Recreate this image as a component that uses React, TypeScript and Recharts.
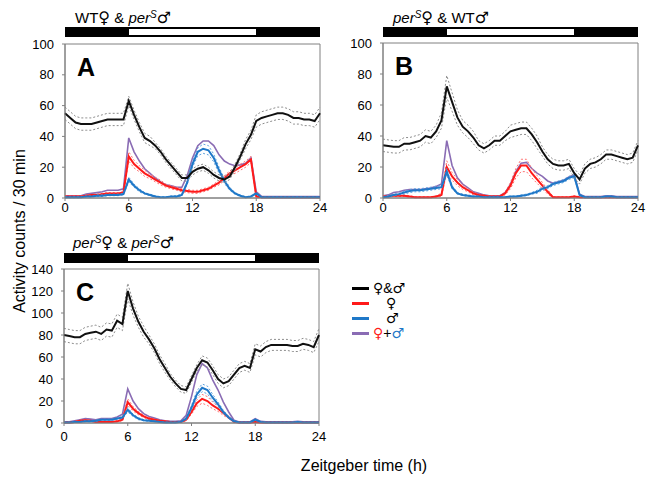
import { LineChart, Line, XAxis, YAxis, ReferenceArea } from "recharts";

// half-hour bins, ZT 0 .. 24
const HOURS = [
  0, 0.5, 1, 1.5, 2, 2.5, 3, 3.5, 4, 4.5, 5, 5.5,
  6, 6.5, 7, 7.5, 8, 8.5, 9, 9.5, 10, 10.5, 11, 11.5,
  12, 12.5, 13, 13.5, 14, 14.5, 15, 15.5, 16, 16.5, 17, 17.5,
  18, 18.5, 19, 19.5, 20, 20.5, 21, 21.5, 22, 22.5, 23, 23.5,
  24,
];
const X_TICKS = [0, 6, 12, 18, 24];
const Y_TICKS_AB = [0, 20, 40, 60, 80, 100];
const Y_TICKS_C = [0, 20, 40, 60, 80, 100, 120, 140];

// Panel A: WT female & perS male
const A_PAIR = [55,52,49,48,48,48,49,50,51,51,51,51, 63,54,46,39,37,34,30,25,21,17,13,13, 17,19,20,18,15,13,12,14,20,27,35,41, 50,52,53,54,55,55,54,52,52,51,51,50, 55];
const A_PAIR_SEM = [4,4,4,4,4,4,4,4,4,4,4,4, 3,3,3,3,3,2,2,2,2,2,2,2, 2,2,2,2,2,2,2,2,2,2,3,3, 4,4,4,4,4,4,4,4,4,4,4,4, 4];
const A_FEMALE = [1,1,1,1,1.5,2,2,2.5,3,3,3,3.5, 27,22,19,16,14,12,10,8,7,6,5,4.5, 4,4,5,6,8,10,13,16,18,20,22,25, 1,0.5,0.5,0.5,0.5,0.5,0.5,0.5,0.5,0.5,0.5,0.5, 0.5];
const A_FEMALE_SEM = [0.5,0.5,0.5,0.5,0.5,0.5,0.5,0.5,0.5,0.5,0.5,0.5, 3,2.5,2,2,1.5,1.5,1.5,1,1,1,1,1, 1,1,1,1,1,1.5,1.5,1.5,2,2,2,2, 0.5,0.3,0.3,0.3,0.3,0.3,0.3,0.3,0.3,0.3,0.3,0.3, 0.3];
const A_MALE = [0.5,0.5,0.5,0.5,1,1,1.5,1.5,2,2,2,2.5, 12,8,5,3,2,1,0.5,0.5,1,1,2,10, 22,30,32,31,26,18,11,6,3,1.5,0.5,1, 3,0.5,0.5,0.5,0.5,0.5,0.5,0.5,0.5,0.5,0.5,0.5, 0.5];
const A_MALE_SEM = [0.3,0.3,0.3,0.3,0.3,0.3,0.5,0.5,0.5,0.5,0.5,0.5, 1.5,1,1,0.5,0.5,0.5,0.3,0.3,0.3,0.5,0.5,1, 2,2.5,3,3,2.5,2,1.5,1,0.5,0.5,0.3,0.3, 0.5,0.3,0.3,0.3,0.3,0.3,0.3,0.3,0.3,0.3,0.3,0.3, 0.3];

// Panel B: perS female & WT male
const B_PAIR = [34,33.5,33,33,35,35,36,37,40,39,43,50, 72,62,52,46,43,39,34,32,34,37,37,40, 43,44,45,45,41,36,30,25,22,21,21,22, 16,12,19,22,23,25,28,28,27,26,25,26, 34];
const B_PAIR_SEM = [4,4,4,4,4,4,4,4,4,4,4,5, 7,6,5,4,4,4,3,3,3,3,3,3, 4,4,4,4,4,4,3,3,3,3,3,3, 3,3,3,3,3,3,3,3,3,3,3,3, 3];
const B_FEMALE = [1,1,1.5,1.5,1.5,1,0.5,0.5,0.5,0.5,1,2, 20,14,10,7,5,3,2,1.5,1,1,1,3, 8,16,21,21,16,12,8,4,0.5,0.5,0.5,0.5, 1,0.5,0.5,0.5,0.5,0.5,0.5,0.5,0.5,0.5,0.5,0.5, 0.5];
const B_FEMALE_SEM = [0.5,0.5,0.5,0.5,0.5,0.5,0.3,0.3,0.3,0.3,0.5,1, 4,2.5,2,1.5,1,1,0.5,0.5,0.5,0.5,0.5,1, 2,3,4,4,3,2.5,2,1.5,0.3,0.3,0.3,0.3, 0.5,0.3,0.3,0.3,0.3,0.3,0.3,0.3,0.3,0.3,0.3,0.3, 0.3];
const B_MALE = [0.5,1,2,2.5,3.5,4.5,5,5,5.5,6,6.5,7, 17,7,3,2,1.5,1,1,0.5,0.5,0.5,0.5,0.5, 1,1,1.5,2,3,4,6,7,9,10,11,13, 14,2,0.5,0.5,0.5,0.5,1,1,0.5,0.5,0.5,0.5, 0.5];
const B_MALE_SEM = [0.3,0.5,0.5,0.5,1,1,1,1,1,1,1,1, 2,1,0.5,0.5,0.5,0.3,0.3,0.3,0.3,0.3,0.3,0.3, 0.3,0.3,0.5,0.5,0.5,1,1,1,1,1,1,1, 1,0.5,0.3,0.3,0.3,0.3,0.3,0.3,0.3,0.3,0.3,0.3, 0.3];

// Panel C: perS female & perS male
const C_PAIR = [80,79,78,78,81,82,83,81,85,84,93,90, 120,104,92,83,76,68,58,50,42,36,31,30, 40,50,57,55,48,40,36,38,44,50,52,50, 67,65,69,71,71,71,71,70,70,72,71,69, 80];
const C_PAIR_SEM = [6,6,6,6,6,6,6,6,6,6,6,6, 7,6,5,5,4,4,4,4,3,3,3,3, 3,3,4,4,4,4,4,4,4,4,4,4, 5,5,5,5,5,5,5,5,5,5,5,5, 6];
const C_FEMALE = [0.5,0.5,1,2,2.5,2,1,1,1,1,1.5,3, 19,13,9,6,4,3,2,1.5,1,1,1,3, 10,18,22,20,16,13,9,5,1,0.5,0.5,0.5, 1,0.5,0.5,0.5,0.5,0.5,0.5,0.5,0.5,0.5,0.5,0.5, 0.5];
const C_FEMALE_SEM = [0.3,0.3,0.5,0.5,0.5,0.5,0.3,0.3,0.3,0.3,0.5,1, 3,2,1.5,1,1,0.5,0.5,0.5,0.3,0.3,0.3,1, 2,3,4,4,3,2.5,2,1,0.3,0.3,0.3,0.3, 0.5,0.3,0.3,0.3,0.3,0.3,0.3,0.3,0.3,0.3,0.3,0.3, 0.3];
const C_MALE = [0.5,0.5,1,1,1.5,1.5,2,3,3,3,4,5, 12,7,4,2.5,2,1.5,1,0.5,0.5,0.5,1,4, 14,26,32,30,23,17,10,5,1.5,0.5,0.5,0.5, 3,1,0.5,0.5,0.5,0.5,0.5,0.5,1,0.5,0.5,0.5, 0.5];
const C_MALE_SEM = [0.3,0.3,0.3,0.3,0.5,0.5,0.5,0.5,0.5,0.5,0.5,1, 2,1,1,0.5,0.5,0.5,0.3,0.3,0.3,0.3,0.3,1, 2,3,3.5,3.5,3,2,1.5,1,0.5,0.3,0.3,0.3, 0.5,0.3,0.3,0.3,0.3,0.3,0.3,0.3,0.3,0.3,0.3,0.3, 0.3];

const FONT = "'Liberation Sans', Arial, sans-serif";
const SYM = "'DejaVu Sans', sans-serif";
const RED = "#ff1a1a";
const BLUE = "#1f78c8";
const PURPLE = "#8a6cb4";
const AXIS = "#808080";

const buildRows = (pair, pairSem, fem, femSem, male, maleSem) =>
  HOURS.map((t, i) => ({
    t,
    pair: pair[i],
    pairHi: pair[i] + pairSem[i],
    pairLo: pair[i] - pairSem[i],
    fem: fem[i],
    femHi: fem[i] + femSem[i],
    femLo: Math.max(0, fem[i] - femSem[i]),
    male: male[i],
    maleHi: male[i] + maleSem[i],
    maleLo: Math.max(0, male[i] - maleSem[i]),
    sum: fem[i] + male[i],
  }));

const Sym = ({ c, color, size = 16 }: { c: string; color?: string; size?: number }) => (
  <span style={{ fontFamily: SYM, fontSize: size, color, lineHeight: "14px" }}>{c}</span>
);

const Title = ({ parts, left, top }) => (
  <div style={{ position: "absolute", left, top, fontSize: 15, fontFamily: FONT, whiteSpace: "nowrap", lineHeight: "18px" }}>
    {parts}
  </div>
);

const PerS = () => (
  <span>
    <i>per</i>
    <sup style={{ fontSize: 10, fontStyle: "italic", verticalAlign: 5 }}>S</sup>
  </span>
);

const LightBar = ({ left, top, width }) => {
  const h = width / 24;
  return (
    <div style={{ position: "absolute", left, top, width, height: 10, background: "#000" }}>
      <div style={{ position: "absolute", left: 6 * h, top: 2, width: 12 * h, height: 6, background: "#fff" }} />
    </div>
  );
};

const Panel = ({ left, top, plotLeft, plotTop, yMax, yTicks, rows, letter, xGap }) => (
  <div style={{ position: "absolute", left, top, width: 330, height: 220 }}>
    <LineChart width={330} height={220} data={rows} margin={{ top: plotTop, right: 330 - plotLeft - 255, bottom: 2, left: 0 }}>
      <XAxis dataKey="t" type="number" domain={[0, 24]} ticks={X_TICKS} height={20} tickSize={3} tickMargin={xGap}
        stroke={AXIS} tick={{ fill: "#000", fontSize: 13, fontFamily: FONT }} />
      <YAxis type="number" domain={[0, yMax]} ticks={yTicks} width={plotLeft} tickSize={3} tickMargin={8}
        stroke={AXIS} tick={{ fill: "#000", fontSize: 13, fontFamily: FONT }} />
      <ReferenceArea x1={0} x2={24} y1={0} y2={yMax} fill="none" stroke={AXIS} strokeWidth={1} />
      <Line dataKey="sum" stroke={PURPLE} strokeWidth={1.6} dot={false} isAnimationActive={false} />
      <Line dataKey="femHi" stroke="#ff7070" strokeWidth={1} strokeDasharray="2 2" dot={false} isAnimationActive={false} />
      <Line dataKey="femLo" stroke="#ff7070" strokeWidth={1} strokeDasharray="2 2" dot={false} isAnimationActive={false} />
      <Line dataKey="fem" stroke={RED} strokeWidth={2} dot={false} isAnimationActive={false} />
      <Line dataKey="maleHi" stroke="#5fa3e0" strokeWidth={1} strokeDasharray="2 2" dot={false} isAnimationActive={false} />
      <Line dataKey="maleLo" stroke="#5fa3e0" strokeWidth={1} strokeDasharray="2 2" dot={false} isAnimationActive={false} />
      <Line dataKey="male" stroke={BLUE} strokeWidth={2} dot={false} isAnimationActive={false} />
      <Line dataKey="pairHi" stroke="#8c8c8c" strokeWidth={1} strokeDasharray="2 2" dot={false} isAnimationActive={false} />
      <Line dataKey="pairLo" stroke="#8c8c8c" strokeWidth={1} strokeDasharray="2 2" dot={false} isAnimationActive={false} />
      <Line dataKey="pair" stroke="#111" strokeWidth={2} dot={false} isAnimationActive={false} />
    </LineChart>
    <div style={{ position: "absolute", left: plotLeft + 12, top: plotTop + 11, fontSize: 25, fontWeight: "bold", fontFamily: FONT, lineHeight: "25px" }}>
      {letter}
    </div>
  </div>
);

const LegendRow = ({ top, color, children }) => (
  <div style={{ position: "absolute", left: 352, top: top - 7, height: 14, display: "flex", alignItems: "center", fontFamily: FONT, fontSize: 14, lineHeight: "14px" }}>
    <div style={{ width: 17, height: 3, background: color, marginRight: 4 }} />
    {children}
  </div>
);

export default function App() {
  const rowsA = buildRows(A_PAIR, A_PAIR_SEM, A_FEMALE, A_FEMALE_SEM, A_MALE, A_MALE_SEM);
  const rowsB = buildRows(B_PAIR, B_PAIR_SEM, B_FEMALE, B_FEMALE_SEM, B_MALE, B_MALE_SEM);
  const rowsC = buildRows(C_PAIR, C_PAIR_SEM, C_FEMALE, C_FEMALE_SEM, C_MALE, C_MALE_SEM);
  return (
    <div style={{ position: "absolute", left: 0, top: 0, width: 653, height: 484, background: "#fff", fontFamily: FONT }}>
      <Title left={75} top={6} parts={<>WT<Sym c="♀" /> &amp; <PerS /><Sym c="♂" /></>} />
      <Title left={393} top={6} parts={<><PerS /><Sym c="♀" /> &amp; WT<Sym c="♂" /></>} />
      <Title left={73} top={231} parts={<><PerS /><Sym c="♀" /> &amp; <PerS /><Sym c="♂" /></>} />
      <LightBar left={65} top={27} width={255} />
      <LightBar left={383} top={27} width={255} />
      <LightBar left={64} top={253} width={255} />
      <Panel left={0} top={0} plotLeft={65} plotTop={44} yMax={100} yTicks={Y_TICKS_AB} rows={rowsA} letter="A" xGap={2} />
      <Panel left={318} top={0} plotLeft={65} plotTop={43} yMax={100} yTicks={Y_TICKS_AB} rows={rowsB} letter="B" xGap={2} />
      <Panel left={0} top={225} plotLeft={64} plotTop={44} yMax={140} yTicks={Y_TICKS_C} rows={rowsC} letter="C" xGap={6} />
      <LegendRow top={288} color="#000"><Sym c="♀" size={14} />&amp;<Sym c="♂" size={14} /></LegendRow>
      <LegendRow top={303} color={RED}><span style={{ marginLeft: 13 }}><Sym c="♀" size={14} /></span></LegendRow>
      <LegendRow top={318} color={BLUE}><span style={{ marginLeft: 13 }}><Sym c="♂" size={14} /></span></LegendRow>
      <LegendRow top={333} color={PURPLE}>
        <Sym c="♀" color={RED} size={14} />
        <span>+</span>
        <Sym c="♂" color={BLUE} size={14} />
      </LegendRow>
      <div style={{ position: "absolute", left: 20, top: 231, transform: "translate(-50%, -50%) rotate(-90deg)", fontSize: 16, whiteSpace: "nowrap" }}>
        Activity counts / 30 min
      </div>
      <div style={{ position: "absolute", left: 364, top: 466, transform: "translate(-50%, -50%)", fontSize: 16, whiteSpace: "nowrap" }}>
        Zeitgeber time (h)
      </div>
    </div>
  );
}
